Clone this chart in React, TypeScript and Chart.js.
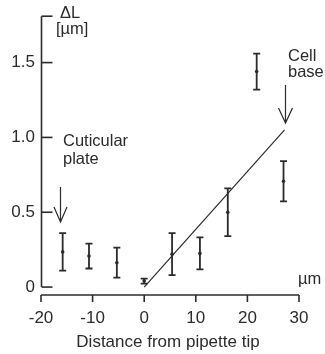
import React, { useEffect, useRef } from "react";
import { Chart, registerables } from "chart.js";

Chart.register(...registerables);

// Data
const xPositions = [-15.8, -10.7, -5.3, 0, 5.4, 10.8, 16.2, 21.8, 27.0];
const meanValues = [0.235, 0.207, 0.163, 0.04, 0.22, 0.225, 0.5, 1.44, 0.707];
const errorValues = [0.125, 0.083, 0.1, 0.017, 0.14, 0.107, 0.16, 0.12, 0.135];
const fitX = [0, 27.2];
const fitY = [0, 1.05];
const yTickValues = [0, 0.5, 1.0, 1.5];
const yTickLabels = ["0", "0.5", "1.0", "1.5"];
const xTickValues = [-20, -10, 0, 10, 20, 30];
const yAxisTop = 1.81;
const yMin = -0.053;
const xMin = -20;
const xMax = 30;

const INK = "#2b2b2b";
const FONT = "'Liberation Sans', Arial, sans-serif";

const drawArrow = (ctx: CanvasRenderingContext2D, x: number, y0: number, y1: number, hw: number, hh: number) => {
  ctx.beginPath();
  ctx.moveTo(x, y0);
  ctx.lineTo(x, y1);
  ctx.moveTo(x - hw, y1 - hh);
  ctx.lineTo(x, y1);
  ctx.lineTo(x + hw, y1 - hh);
  ctx.stroke();
};

const customPlugin = {
  id: "custom",
  beforeDraw(chart: any) {
    const ctx = chart.ctx;
    ctx.save();
    ctx.fillStyle = "#ffffff";
    ctx.fillRect(0, 0, chart.width, chart.height);
    ctx.restore();
  },
  afterDatasetsDraw(chart: any) {
    const ctx: CanvasRenderingContext2D = chart.ctx;
    const xs = chart.scales.x;
    const ys = chart.scales.y;
    ctx.save();
    ctx.strokeStyle = INK;
    ctx.fillStyle = INK;
    ctx.lineCap = "butt";

    // y axis
    const yl = Math.round(xs.getPixelForValue(xMin)) + 0.5;
    ctx.lineWidth = 1.6;
    ctx.beginPath();
    ctx.moveTo(yl, ys.getPixelForValue(yAxisTop));
    ctx.lineTo(yl, ys.getPixelForValue(0));
    ctx.stroke();
    for (const v of [...yTickValues, yAxisTop]) {
      const py = ys.getPixelForValue(v);
      ctx.beginPath();
      ctx.moveTo(yl, py);
      ctx.lineTo(yl + 11, py);
      ctx.stroke();
    }

    // x axis
    const xb = chart.chartArea.bottom;
    ctx.beginPath();
    ctx.moveTo(xs.getPixelForValue(xMin), xb);
    ctx.lineTo(xs.getPixelForValue(xMax), xb);
    ctx.stroke();
    for (const v of xTickValues) {
      const px = xs.getPixelForValue(v);
      ctx.beginPath();
      ctx.moveTo(px, xb);
      ctx.lineTo(px, xb + 7);
      ctx.stroke();
    }

    // error bars
    ctx.lineWidth = 1.8;
    xPositions.forEach((xv, i) => {
      const px = xs.getPixelForValue(xv);
      const top = ys.getPixelForValue(meanValues[i] + errorValues[i]);
      const bot = ys.getPixelForValue(meanValues[i] - errorValues[i]);
      ctx.beginPath();
      ctx.moveTo(px, top);
      ctx.lineTo(px, bot);
      ctx.moveTo(px - 3.5, top);
      ctx.lineTo(px + 3.5, top);
      ctx.moveTo(px - 3.5, bot);
      ctx.lineTo(px + 3.5, bot);
      ctx.stroke();
    });

    // arrows
    ctx.lineWidth = 1.2;
    drawArrow(ctx, 60.5, 187, 222, 6.5, 15);
    drawArrow(ctx, 285.5, 85, 123, 7, 15);

    // texts
    ctx.font = `16.5px ${FONT}`;
    ctx.textAlign = "left";
    ctx.textBaseline = "alphabetic";
    ctx.fillText("Cuticular", 63, 146);
    ctx.fillText("plate", 63, 164);
    ctx.fillText("Cell", 288, 61);
    ctx.fillText("base", 288, 77);
    ctx.fillText("\u0394L", 60, 18);
    ctx.fillText("[\u00b5m]", 56, 34);
    ctx.fillText("\u00b5m", 298, 284);
    ctx.textAlign = "center";
    ctx.font = `17px ${FONT}`;
    ctx.fillText("Distance from pipette tip", 168, 347);
    ctx.restore();
  },
};

export default function App() {
  const canvasRef = useRef<HTMLCanvasElement | null>(null);
  useEffect(() => {
    if (!canvasRef.current) return;
    const chart = new Chart(canvasRef.current, {
      type: "scatter",
      data: {
        datasets: [
          {
            type: "line",
            data: fitX.map((x, i) => ({ x, y: fitY[i] })),
            borderColor: INK,
            borderWidth: 1.2,
            pointRadius: 0,
            showLine: true,
            fill: false,
          } as any,
          {
            data: xPositions.map((x, i) => ({ x, y: meanValues[i] })),
            backgroundColor: INK,
            borderColor: INK,
            pointRadius: 1.8,
            borderWidth: 0,
          },
        ],
      },
      options: {
        responsive: false,
        animation: false,
        devicePixelRatio: 1,
        layout: { padding: { left: 0, right: 26, top: 13, bottom: 0 } },
        plugins: { legend: { display: false }, tooltip: { enabled: false } },
        scales: {
          x: {
            type: "linear",
            min: xMin,
            max: xMax,
            grid: { display: false, drawTicks: false },
            border: { display: false },
            afterBuildTicks: (s: any) => {
              s.ticks = xTickValues.map((v) => ({ value: v }));
            },
            afterFit: (s: any) => {
              s.height = 59;
            },
            ticks: {
              color: INK,
              padding: 13,
              font: { family: FONT, size: 17 },
              maxRotation: 0,
              callback: (v: any) => String(v),
            },
          },
          y: {
            type: "linear",
            min: yMin,
            max: yAxisTop,
            grid: { display: false, drawTicks: false },
            border: { display: false },
            afterBuildTicks: (s: any) => {
              s.ticks = yTickValues.map((v) => ({ value: v }));
            },
            afterFit: (s: any) => {
              s.width = 41;
            },
            ticks: {
              color: INK,
              padding: 6,
              font: { family: FONT, size: 17 },
              callback: (v: any) => {
                const i = yTickValues.indexOf(Number(v));
                return i >= 0 ? yTickLabels[i] : "";
              },
            },
          },
        },
      },
      plugins: [customPlugin],
    });
    return () => chart.destroy();
  }, []);
  return (
    <div style={{ position: "fixed", left: 0, top: 0, width: 325, height: 354, background: "#fff" }}>
      <canvas ref={canvasRef} width={325} height={354} />
    </div>
  );
}
